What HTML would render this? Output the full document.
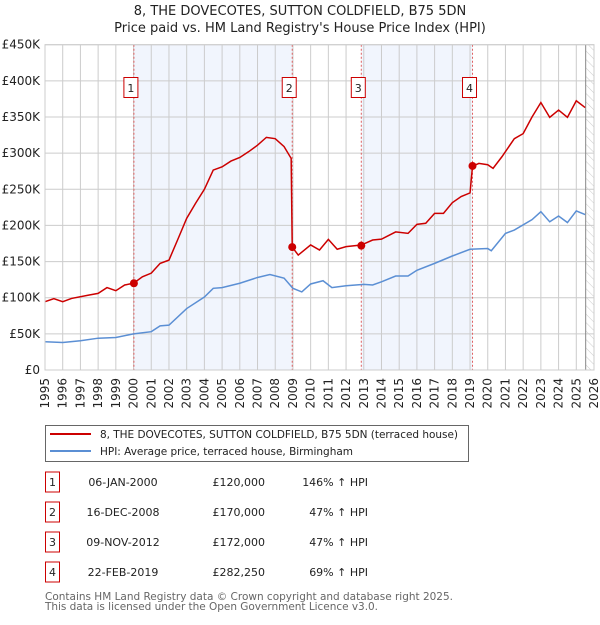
<!DOCTYPE html>
<html><head><meta charset="utf-8"><style>
body{margin:0;background:#fff;font-family:"Liberation Sans","DejaVu Sans",sans-serif;}
svg text{font-family:"DejaVu Sans","Liberation Sans",sans-serif;}
</style></head><body>
<svg id="c" width="600" height="620" xmlns="http://www.w3.org/2000/svg">
<defs><pattern id="hatch" width="6" height="6" patternUnits="userSpaceOnUse" patternTransform="rotate(-45)"><line x1="0" y1="0" x2="0" y2="6" stroke="#ccc" stroke-width="1"/></pattern></defs>
<text x="300" y="15" text-anchor="middle" font-size="13" fill="#222">8, THE DOVECOTES, SUTTON COLDFIELD, B75 5DN</text>
<text x="300" y="32" text-anchor="middle" font-size="13" fill="#222">Price paid vs. HM Land Registry's House Price Index (HPI)</text>
<g id="plot"></g>
<g>
<rect x="45.5" y="425.5" width="423" height="36" fill="#fff" stroke="#666"/>
<line x1="50" y1="434" x2="91" y2="434" stroke="#cc0000" stroke-width="2"/>
<text x="100" y="438" font-size="10.5" textLength="358" fill="#222">8, THE DOVECOTES, SUTTON COLDFIELD, B75 5DN (terraced house)</text>
<line x1="50" y1="451" x2="91" y2="451" stroke="#5b8fd4" stroke-width="2"/>
<text x="100" y="455" font-size="10.5" textLength="253" fill="#222">HPI: Average price, terraced house, Birmingham</text>
</g>
<g id="table" font-size="11" fill="#222"></g>
<text x="45" y="600" font-size="10.5" textLength="408" fill="#666">Contains HM Land Registry data © Crown copyright and database right 2025.</text>
<text x="45" y="610" font-size="10.5" textLength="333" fill="#666">This data is licensed under the Open Government Licence v3.0.</text>
</svg>
<script>
const hpiYears=[1995,1996,1997,1998,1999,2000,2001,2001.5,2002,2003,2004,2004.5,2005,2006,2007,2007.7,2008.5,2009,2009.5,2010,2010.7,2011.2,2012,2013,2013.5,2014,2014.8,2015.5,2016,2017,2018,2019,2020,2020.2,2021,2021.5,2022.5,2023,2023.5,2024,2024.5,2025,2025.5];
const hpiValues=[39,38,40.5,44,45,50,53,61,62,85,101,113,114,120,128,132,127,113,108,119,123.5,114,116.6,118.5,117.6,122,130,130,138,147.5,157.7,167,168,165,189,193.6,208,219,205,213,204,220,215];
const priceYears=[1995,1995.5,1996,1996.5,1997.5,1998,1998.5,1999,1999.5,2000,2000.5,2001,2001.5,2002,2002.5,2003,2003.5,2004,2004.5,2005,2005.5,2006,2006.5,2007,2007.5,2008,2008.5,2008.9,2008.96,2009.3,2010,2010.5,2011,2011.5,2012,2012.86,2013.5,2014,2014.8,2015.5,2016,2016.5,2017,2017.5,2018,2018.5,2019,2019.14,2019.5,2020,2020.3,2020.8,2021.5,2022,2022.5,2023,2023.5,2024,2024.5,2025,2025.5];
const priceValues=[94.5,98.7,94.5,99,103.7,106,114,109.7,117.6,120,129,134,147.5,152,180.7,209.8,230.5,250,276.6,281,289,294,302,311,321.8,320,309,292.7,170,159,173,166,180.7,167,170.6,172.9,179.8,181,191,189,201.5,203,216.7,216.7,231.5,240,245,282,285.8,284,279,295,320,327,350,370,349.5,359.6,349.5,372.5,363];
const saleYears=[2000.02,2008.96,2012.86,2019.14];
const saleValues=[120,170,172,282.25];
const saleLabels=["1","2","3","4"];
const saleDates=["06-JAN-2000","16-DEC-2008","09-NOV-2012","22-FEB-2019"];
const salePrices=["£120,000","£170,000","£172,000","£282,250"];
const saleHpi=["146% ↑ HPI","47% ↑ HPI","47% ↑ HPI","69% ↑ HPI"];
const yTicks=[0,50,100,150,200,250,300,350,400,450];
const yTickLabels=["£0","£50K","£100K","£150K","£200K","£250K","£300K","£350K","£400K","£450K"];
const xTicks=[];for(let y=1995;y<=2026;y++)xTicks.push(y);

const X0=45,X1=594,Y0=370,Y1=44.7;
const xs=v=>X0+(v-1995)/(2026-1995)*(X1-X0);
const ys=v=>Y0-v/450*(Y0-Y1);
const NS="http://www.w3.org/2000/svg";
const plot=document.getElementById('plot');
function mk(tag,attrs,parent){const e=document.createElementNS(NS,tag);for(const k in attrs)e.setAttribute(k,attrs[k]);(parent||plot).appendChild(e);return e;}

for(const [a,b] of [[0,1],[2,3]]){
 const r=mk('rect',{x:xs(saleYears[a]),y:Y1,width:xs(saleYears[b])-xs(saleYears[a]),height:Y0-Y1,fill:'#eef3fc',opacity:0.8});
 
 
}
const h=mk('rect',{x:xs(2025.53),y:Y1,width:X1-xs(2025.53),height:Y0-Y1,fill:'url(#hatch)'});


xTicks.forEach(t=>{const l=mk('line',{x1:xs(t),x2:xs(t),y1:Y1,y2:Y0,stroke:'#ccc','stroke-width':1});
 
 
 const tx=mk('text',{x:0,y:0,transform:`translate(${xs(t)+4},${Y0+8}) rotate(-90)`,'text-anchor':'end','font-size':12,fill:'#222'});tx.textContent=t;
 
 
});
yTicks.forEach((t,i)=>{const l=mk('line',{x1:X0,x2:X1,y1:ys(t),y2:ys(t),stroke:'#ccc','stroke-width':1});
 
 
 const tx=mk('text',{x:40,y:ys(t)+4,'text-anchor':'end','font-size':12,fill:'#222'});tx.textContent=yTickLabels[i];
 
 
});
const nl=mk('line',{x1:xs(2025.53),x2:xs(2025.53),y1:Y1,y2:Y0,stroke:'#888','stroke-width':1});


saleYears.forEach((s,i)=>{const l=mk('line',{x1:xs(s),x2:xs(s),y1:Y1,y2:Y0,stroke:'#e06060','stroke-width':1,'stroke-dasharray':'2,2'});
 
 
});
const hp=mk('polyline',{points:hpiYears.map((y,i)=>xs(y)+','+ys(hpiValues[i])).join(' '),fill:'none',stroke:'#5b8fd4','stroke-width':1.5});


const pp=mk('polyline',{points:priceYears.map((y,i)=>xs(y)+','+ys(priceValues[i])).join(' '),fill:'none',stroke:'#cc0000','stroke-width':1.5});


saleYears.forEach((s,i)=>{const c=mk('circle',{cx:xs(s),cy:ys(saleValues[i]),r:4,fill:'#cc0000'});
 
 
 const b=mk('rect',{x:xs(s)-10,y:77.5,width:14,height:20,fill:'#fff',stroke:'#cc0000'});
 
 
 const t=mk('text',{x:xs(s)-3,y:92,'text-anchor':'middle','font-size':11,fill:'#222'});t.textContent=saleLabels[i];
 
 
});
mk('rect',{x:X0,y:Y1,width:X1-X0,height:Y0-Y1,fill:'none',stroke:'#ccc'});
const tb=document.getElementById('table');
saleLabels.forEach((lab,i)=>{const cy=483+30*i;
 const b=mk('rect',{x:45.5,y:cy-11,width:14,height:20,fill:'#fff',stroke:'#cc0000'},tb);
 
 
 const cells=[[52.5,lab,'middle'],[123,saleDates[i],'middle'],[265,salePrices[i],'end'],[368,saleHpi[i],'end']];
 cells.forEach(([x,txt,a])=>{const t=mk('text',{x:x,y:cy+3,'text-anchor':a},tb);t.textContent=txt;
  
  });
});
</script>
</body></html>
